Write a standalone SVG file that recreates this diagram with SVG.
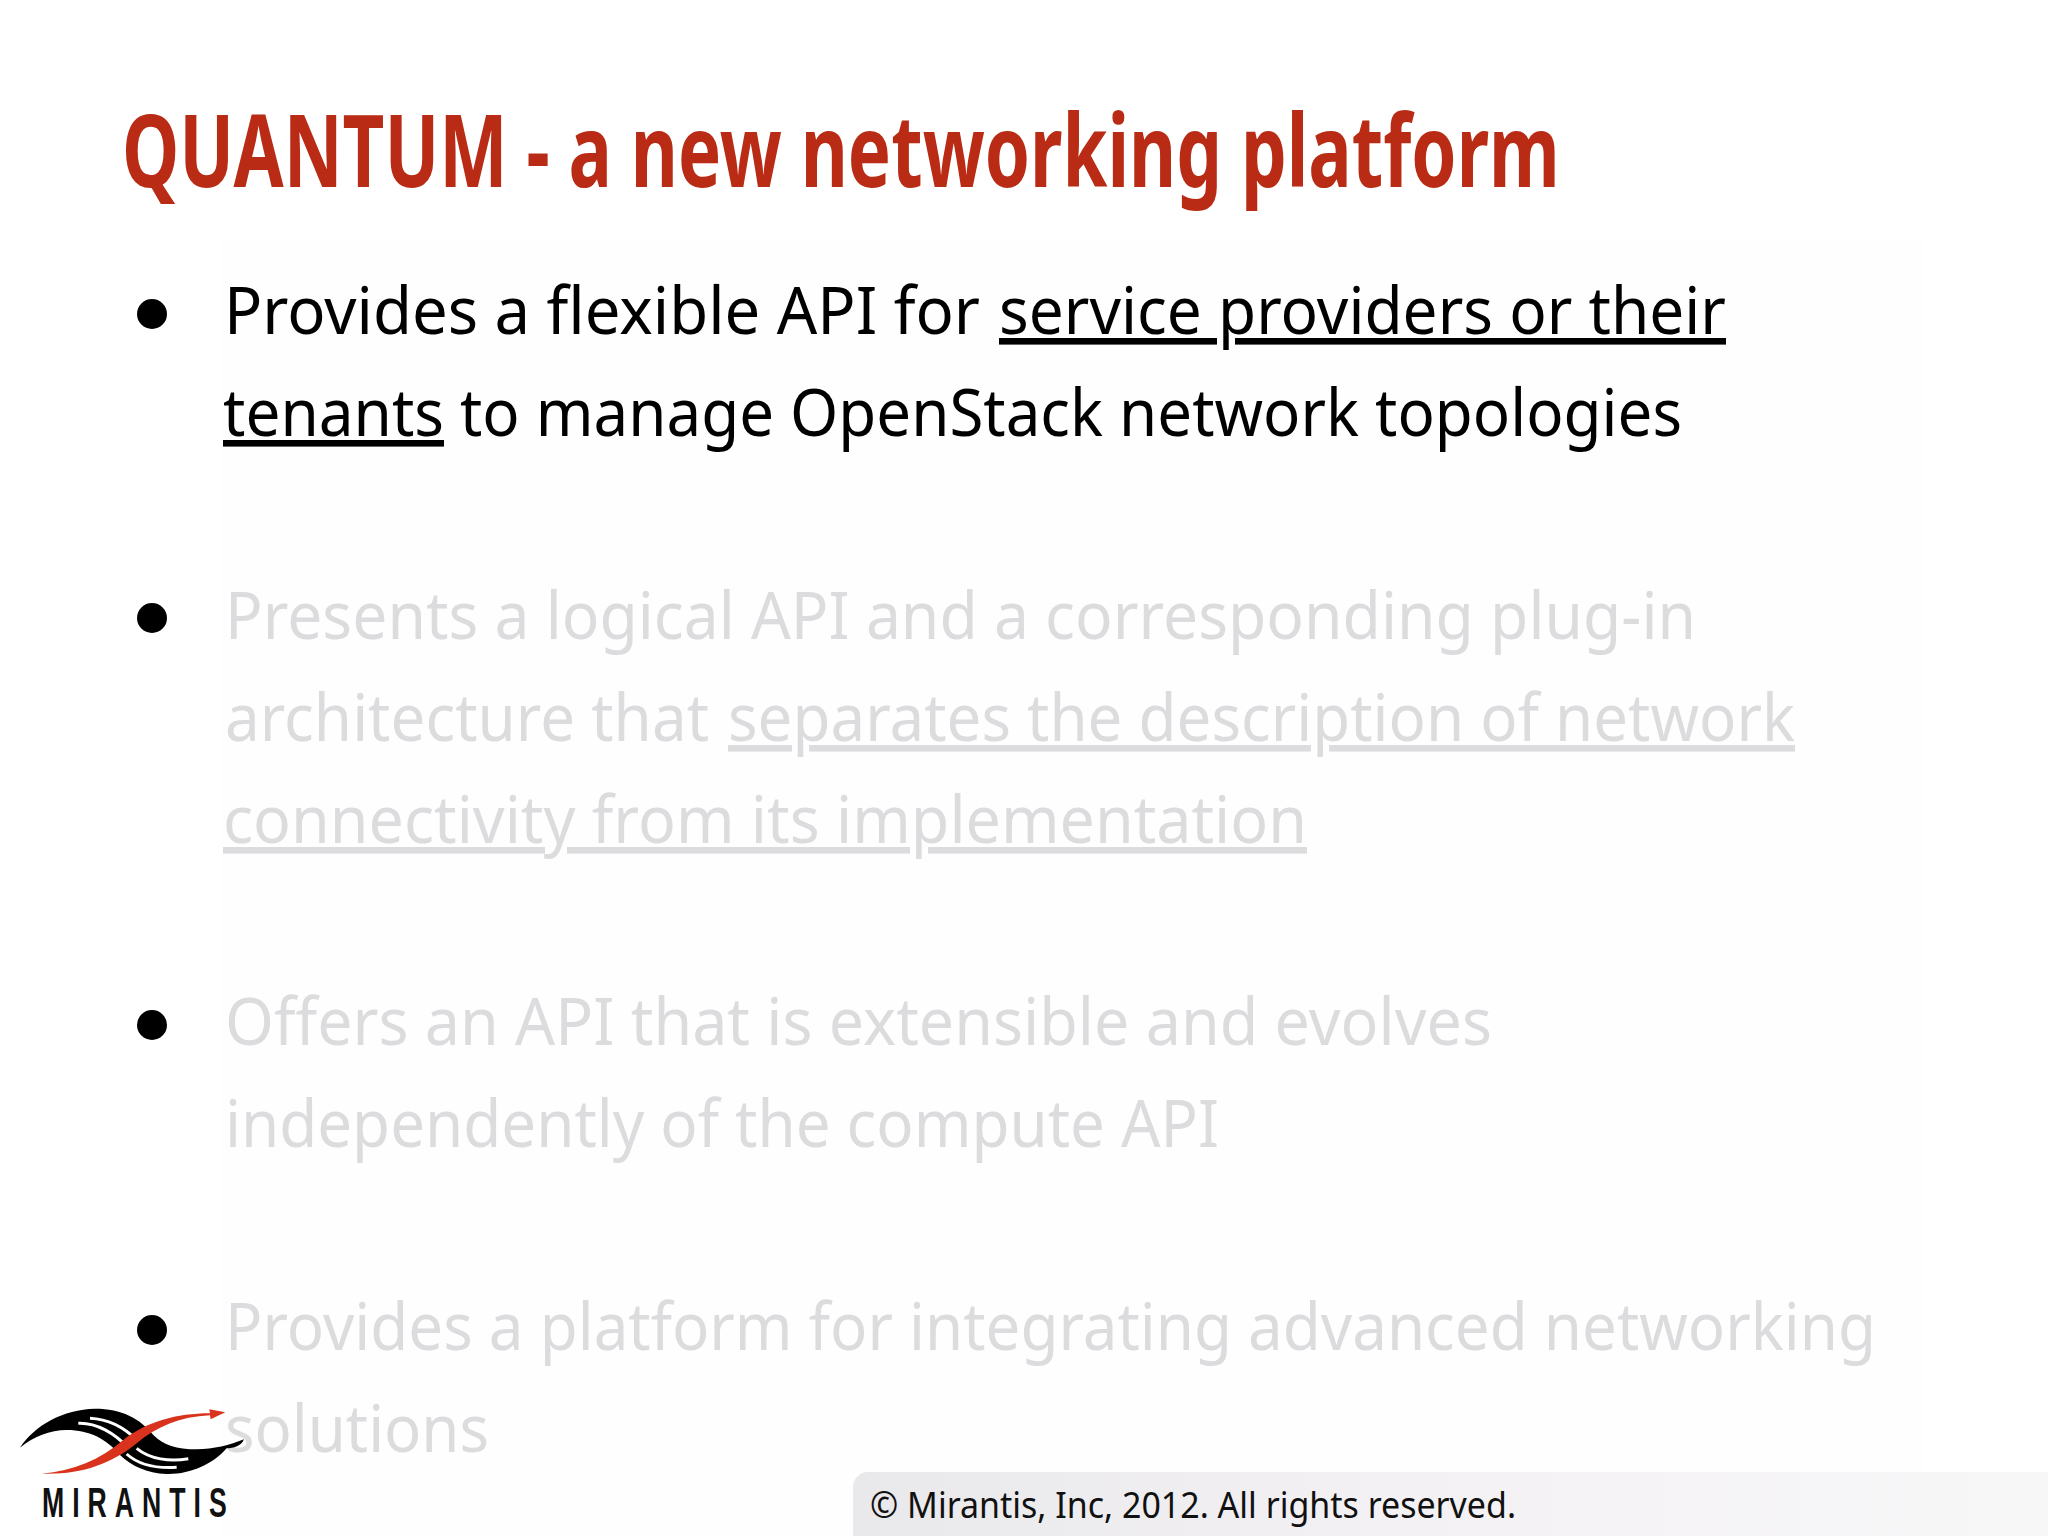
<svg xmlns="http://www.w3.org/2000/svg" width="2048" height="1536" viewBox="0 0 2048 1536">
<defs>
<style>
text{font-family:"Noto Sans","Open Sans",sans-serif;white-space:pre}
.t{font-size:100px;font-weight:700;fill:#b92b15}
.b{font-size:66px;fill:#000}
.f{font-size:66px;fill:#dcdcde}
.u{text-decoration:underline;text-decoration-thickness:3px;text-underline-offset:7px;text-decoration-skip-ink:none}
.c{font-size:36px;fill:#111}
.m{font-family:"Liberation Sans",sans-serif;font-size:43px;font-weight:700;fill:#111}
</style>
<linearGradient id="bar" x1="0" x2="1" y1="0" y2="0"><stop offset="0" stop-color="#e9e8ea"/><stop offset=".45" stop-color="#f3f1f4"/><stop offset="1" stop-color="#f8f7f8"/></linearGradient>
</defs>
<rect width="2048" height="1536" fill="#fff"/>
<rect x="222" y="240" width="1700" height="1296" fill="#fefefe"/>
<g id="title"><text class="t" transform="translate(122 187) scale(.75 1)" x="0" y="0" textLength="1917" lengthAdjust="spacingAndGlyphs">QUANTUM - a new networking platform</text></g>
<g id="bullet-1">
<circle cx="152" cy="314" r="15"/>
<text class="b" x="224" y="334" textLength="756" lengthAdjust="spacingAndGlyphs">Provides a flexible API for</text>
<text class="b u" x="999" y="334" textLength="727" lengthAdjust="spacingAndGlyphs">service providers or their</text>
<text class="b u" x="223" y="436" textLength="221" lengthAdjust="spacingAndGlyphs">tenants</text>
<text class="b" x="460" y="436" textLength="1222" lengthAdjust="spacingAndGlyphs">to manage OpenStack network topologies</text>
</g>
<g id="bullet-2">
<circle cx="152" cy="618" r="15"/>
<text class="f" x="225" y="639" textLength="1471" lengthAdjust="spacingAndGlyphs">Presents a logical API and a corresponding plug-in</text>
<text class="f" x="225" y="741" textLength="484" lengthAdjust="spacingAndGlyphs">architecture that</text>
<text class="f u" x="728" y="741" textLength="1067" lengthAdjust="spacingAndGlyphs">separates the description of network</text>
<text class="f u" x="223" y="843" textLength="1084" lengthAdjust="spacingAndGlyphs">connectivity from its implementation</text>
</g>
<g id="bullet-3">
<circle cx="152" cy="1025" r="15"/>
<text class="f" x="225" y="1045" textLength="1267" lengthAdjust="spacingAndGlyphs">Offers an API that is extensible and evolves</text>
<text class="f" x="225" y="1147" textLength="994" lengthAdjust="spacingAndGlyphs">independently of the compute API</text>
</g>
<g id="bullet-4">
<circle cx="152" cy="1330" r="15"/>
<text class="f" x="225" y="1350" textLength="1651" lengthAdjust="spacingAndGlyphs">Provides a platform for integrating advanced networking</text>
<text class="f" x="225" y="1452" textLength="264" lengthAdjust="spacingAndGlyphs">solutions</text>
</g>
<g id="footer">
<path d="M2048 1472H868a15 15 0 0 0-15 15V1536H2048Z" fill="url(#bar)"/>
<text class="c" x="870" y="1518" textLength="646" lengthAdjust="spacingAndGlyphs">© Mirantis, Inc, 2012. All rights reserved.</text>
</g>
<g id="logo">
<g transform="translate(0 1380) scale(.3333)">
<path d="M60 203C105 135 190 88 285 86C365 86 420 115 460 165C490 195 530 208 590 208C640 208 690 195 732 178C725 198 700 205 680 205C640 252 570 284 500 282C440 280 395 258 360 225C320 178 270 150 200 150C150 150 100 170 60 203Z" fill="#000"/>
<g fill="none" stroke="#fff" stroke-width="9">
<path d="M235 130C290 128 345 160 385 205"/>
<path d="M270 115C330 118 375 145 410 180"/>
<path d="M380 222C420 258 470 266 530 262"/>
<path d="M410 205C450 238 510 246 565 236"/>
</g>
<path d="M125 281C220 272 300 240 370 180C440 125 530 100 630 100L628 88L676 97L632 118L630 106C540 110 470 140 410 190C330 255 240 285 125 281Z" fill="#d9331e"/>
</g>
<text class="m" transform="translate(42 1517) scale(.62 1)" x="0" y="0" textLength="298" lengthAdjust="spacing">MIRANTIS</text>
</g>
</svg>
